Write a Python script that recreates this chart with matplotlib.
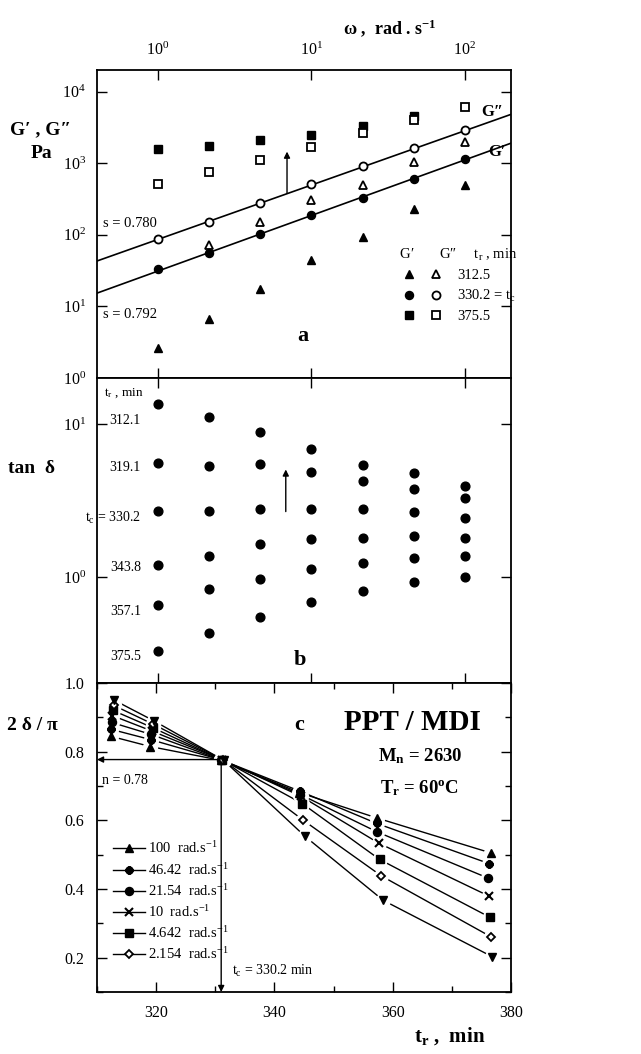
import matplotlib.pyplot as plt
import numpy as np
from matplotlib.lines import Line2D
from matplotlib.legend_handler import HandlerTuple
from matplotlib.ticker import FixedLocator, NullLocator, LogFormatterMathtext, MultipleLocator, FormatStrFormatter

plt.rcParams['font.family'] = ['Liberation Serif', 'DejaVu Serif']
plt.rcParams['mathtext.fontset'] = 'custom'
plt.rcParams['mathtext.rm'] = 'Liberation Serif'
plt.rcParams['mathtext.it'] = 'Liberation Serif:italic'
plt.rcParams['mathtext.bf'] = 'Liberation Serif:bold'

# ---- panel a : G', G'' vs omega
omega = [1, 2.154, 4.642, 10, 21.54, 46.42, 100]
Gp_312 = [2.6, 6.6, 17.4, 45, 94, 228, 500]
Gpp_312 = [np.nan, 72, 151, 303, 490, 1030, 2000]
Gp_330 = [33, 56, 101, 188, 330, 605, 1160]
Gpp_330 = [86, 151, 275, 505, 915, 1630, 2870]
Gp_375 = [1600, 1760, 2130, 2500, 3250, 4600, np.nan]
Gpp_375 = [505, 750, 1120, 1660, 2650, 3950, 6100]
fit_w = [0.4, 200]
Gpp_fit = [43, 4800]
Gp_fit = [15.3, 1900]
legend_a = ['312.5', '330.2 = t$_\\mathrm{c}$', '375.5']

# ---- panel b : tan delta vs omega, one row per reaction time
tr_b = ['312.1', '319.1', 't$_\\mathrm{c}$ = 330.2', '343.8', '357.1', '375.5']
tand = [
    [13.5, 11.1, 8.87, 6.91, 5.43, 4.77, 3.97],
    [5.57, 5.30, 5.46, 4.84, 4.26, 3.78, 3.31],
    [2.70, 2.72, 2.80, 2.81, 2.80, 2.68, 2.46],
    [1.20, 1.38, 1.66, 1.77, 1.82, 1.85, 1.82],
    [0.657, 0.836, 0.98, 1.13, 1.25, 1.34, 1.39],
    [0.331, 0.432, 0.555, 0.69, 0.82, 0.93, 1.01],
]

# ---- panel c : 2 delta / pi vs t_r
freq_labels = ['100  rad.s$^{-1}$', '46.42  rad.s$^{-1}$', '21.54  rad.s$^{-1}$',
               '10  rad.s$^{-1}$', '4.642  rad.s$^{-1}$', '2.154  rad.s$^{-1}$', '_nolegend_']
tr_c = [
    [312.3, 319.0, 330.9, 344.2, 357.3, 376.6],
    [312.4, 319.1, 331.0, 344.3, 357.3, 376.3],
    [312.5, 319.2, 331.0, 344.4, 357.4, 376.1],
    [312.6, 319.3, 331.1, 344.5, 357.6, 376.2],
    [312.7, 319.4, 331.2, 344.7, 357.8, 376.4],
    [312.8, 319.5, 331.3, 344.9, 358.1, 376.7],
    [312.9, 319.6, 331.4, 345.2, 358.4, 376.8],
]
delta_c = [
    [0.845, 0.815, 0.775, 0.681, 0.607, 0.505],
    [0.865, 0.835, 0.776, 0.685, 0.591, 0.474],
    [0.885, 0.850, 0.776, 0.675, 0.566, 0.432],
    [0.905, 0.860, 0.777, 0.670, 0.534, 0.380],
    [0.920, 0.870, 0.776, 0.649, 0.486, 0.318],
    [0.935, 0.880, 0.776, 0.600, 0.438, 0.260],
    [0.950, 0.890, 0.775, 0.553, 0.367, 0.203],
]
tc_val = 331.0
n_val = 0.777

fig = plt.figure(figsize=(6.41, 10.54), dpi=100)
L, W = 0.1513, 0.6459
ax_a = fig.add_axes([L, 0.6414, W, 0.2922])
ax_b = fig.add_axes([L, 0.3520, W, 0.2894])
ax_c = fig.add_axes([L, 0.0588, W, 0.2932])

for ax in (ax_a, ax_b, ax_c):
    for s in ax.spines.values():
        s.set_linewidth(1.3)

for ax in (ax_a, ax_b):
    ax.set_xscale('log')
    ax.set_yscale('log')
    ax.set_xlim(0.4, 200)
    ax.xaxis.set_major_locator(FixedLocator([1, 10, 100]))
    ax.xaxis.set_minor_locator(NullLocator())
    ax.yaxis.set_minor_locator(NullLocator())
    ax.yaxis.set_major_formatter(LogFormatterMathtext())
    ax.xaxis.set_major_formatter(LogFormatterMathtext())
    ax.tick_params(which='both', direction='in', top=True, bottom=True, left=True, right=True,
                   labelbottom=False, length=7, width=1, labelsize=11.5, pad=8)
ax_a.tick_params(labeltop=True)

# panel a
ax_a.set_ylim(1, 2e4)
ax_a.yaxis.set_major_locator(FixedLocator([1, 10, 100, 1000, 10000]))
ax_a.plot(fit_w, Gpp_fit, color='k', lw=1.2)
ax_a.plot(fit_w, Gp_fit, color='k', lw=1.2)
ms = 5.8
ax_a.plot(omega, Gp_312, '^', color='k', ms=ms, ls='none')
ax_a.plot(omega, Gpp_312, '^', mfc='white', mec='k', mew=1.3, ms=ms, ls='none')
ax_a.plot(omega, Gp_330, 'o', color='k', ms=ms, ls='none')
ax_a.plot(omega, Gpp_330, 'o', mfc='white', mec='k', mew=1.3, ms=ms, ls='none')
ax_a.plot(omega, Gp_375, 's', color='k', ms=ms, ls='none')
ax_a.plot(omega, Gpp_375, 's', mfc='white', mec='k', mew=1.3, ms=ms, ls='none')

ax_a.text(0.015, 0.503, 's = 0.780', transform=ax_a.transAxes, fontsize=10.5, va='center')
ax_a.text(0.015, 0.205, 's = 0.792', transform=ax_a.transAxes, fontsize=10.5, va='center')
ax_a.text(0.954, 0.862, 'G″', transform=ax_a.transAxes, fontsize=12, fontweight='bold', ha='center', va='center')
ax_a.text(0.966, 0.735, 'G′', transform=ax_a.transAxes, fontsize=12, fontweight='bold', ha='center', va='center')
ax_a.text(0.498, 0.135, 'a', transform=ax_a.transAxes, fontsize=16, fontweight='bold', ha='center', va='center')
ax_a.annotate('', xy=(0.459, 0.735), xytext=(0.459, 0.60), xycoords='axes fraction',
              arrowprops=dict(arrowstyle='-|>', color='k', lw=1, mutation_scale=9, shrinkA=0, shrinkB=0))

mk = ['^', 'o', 's']
handles = [(Line2D([], [], ls='none', marker=m, color='k', ms=ms),
            Line2D([], [], ls='none', marker=m, mfc='white', mec='k', mew=1.3, ms=ms)) for m in mk]
ax_a.legend(handles, legend_a, handler_map={tuple: HandlerTuple(ndivide=None, pad=0)},
            title=' G′       G″     t$_\\mathrm{r}$ , min', loc='upper left', bbox_to_anchor=(0.722, 0.425),
            frameon=False, fontsize=10.5, title_fontsize=10.5, handlelength=3.7, labelspacing=0.4,
            borderpad=0, borderaxespad=0, handletextpad=0.5, alignment='left')

# panel b
ax_b.set_ylim(0.205, 20)
ax_b.yaxis.set_major_locator(FixedLocator([1, 10]))
for row in tand:
    ax_b.plot(omega, row, 'o', color='k', ms=6.3, ls='none')
ax_b.text(0.112, 0.951, 't$_\\mathrm{r}$ , min', transform=ax_b.transAxes, fontsize=9.5, ha='right', va='center')
row_y = [0.862, 0.706, 0.542, 0.377, 0.234, 0.086]
for lab, yy in zip(tr_b, row_y):
    ax_b.text(0.106, yy, lab, transform=ax_b.transAxes, fontsize=10, ha='right', va='center')
ax_b.text(0.49, 0.075, 'b', transform=ax_b.transAxes, fontsize=16, fontweight='bold', ha='center', va='center')
ax_b.annotate('', xy=(0.456, 0.70), xytext=(0.456, 0.562), xycoords='axes fraction',
              arrowprops=dict(arrowstyle='-|>', color='k', lw=1, mutation_scale=9, shrinkA=0, shrinkB=0))

# panel c
ax_c.set_xlim(310, 380)
ax_c.set_ylim(0.1, 1.0)
ax_c.xaxis.set_major_locator(MultipleLocator(20))
ax_c.xaxis.set_minor_locator(MultipleLocator(10))
ax_c.yaxis.set_major_locator(MultipleLocator(0.2))
ax_c.yaxis.set_minor_locator(MultipleLocator(0.1))
ax_c.yaxis.set_major_formatter(FormatStrFormatter('%.1f'))
ax_c.tick_params(which='both', direction='in', top=True, bottom=True, left=True, right=True,
                 width=1, labelsize=11.5)
ax_c.tick_params(which='major', length=7, pad=9)
ax_c.tick_params(which='minor', length=4)

styles = [
    dict(marker='^', mfc='k', mec='k'),
    dict(marker=(8, 2, 0), mfc='k', mec='k', mew=2),
    dict(marker='o', mfc='k', mec='k'),
    dict(marker='x', mfc='k', mec='k', mew=1.5),
    dict(marker='s', mfc='k', mec='k'),
    dict(marker='D', mfc='white', mec='k', mew=1.3, ms=4.5),
    dict(marker='v', mfc='k', mec='k'),
]
leg_handles = []
for x, y, st, lab in zip(tr_c, delta_c, styles, freq_labels):
    ax_c.plot(x, y, color='k', lw=1, zorder=2)
    ax_c.plot(x, y, ls='none', marker='o', ms=10, mfc='white', mec='white', zorder=3)
    kw = dict(ms=5.8)
    kw.update(st)
    ax_c.plot(x, y, ls='none', zorder=4, **kw)
    if not lab.startswith('_'):
        leg_handles.append((Line2D([], [], color='k', lw=1, **kw), lab))

ax_c.annotate('', xy=(310, n_val), xytext=(tc_val, n_val),
              arrowprops=dict(arrowstyle='-|>', color='k', lw=1, mutation_scale=9, shrinkA=0, shrinkB=0))
ax_c.annotate('', xy=(tc_val, 0.1), xytext=(tc_val, n_val),
              arrowprops=dict(arrowstyle='-|>', color='k', lw=1, mutation_scale=9, shrinkA=0, shrinkB=0))

ax_c.legend([h for h, _ in leg_handles], [l for _, l in leg_handles], loc='upper left',
            bbox_to_anchor=(0.038, 0.49), frameon=False, fontsize=10.5, handlelength=2.2,
            labelspacing=0.36, borderpad=0, borderaxespad=0, handletextpad=0.2)

ax_c.text(0.012, 0.686, 'n = 0.78', transform=ax_c.transAxes, fontsize=10, va='center')
ax_c.text(0.326, 0.068, 't$_\\mathrm{c}$ = 330.2 min', transform=ax_c.transAxes, fontsize=10, va='center')
ax_c.text(0.488, 0.864, 'c', transform=ax_c.transAxes, fontsize=16, fontweight='bold', ha='center', va='center')
ax_c.text(0.763, 0.871, 'PPT / MDI', transform=ax_c.transAxes, fontsize=21, fontweight='bold', ha='center', va='center')
ax_c.text(0.78, 0.764, 'M$_\\mathbf{n}$ = 2630', transform=ax_c.transAxes, fontsize=13.5, fontweight='bold', ha='center', va='center')
ax_c.text(0.78, 0.66, 'T$_\\mathbf{r}$ = 60$^\\mathbf{o}$C', transform=ax_c.transAxes, fontsize=13.5, fontweight='bold', ha='center', va='center')

# axis titles
fig.text(41 / 641, 1 - 130 / 1054, 'G′ , G″', fontsize=14, fontweight='bold', ha='center', va='center')
fig.text(41 / 641, 1 - 153 / 1054, 'Pa', fontsize=14, fontweight='bold', ha='center', va='center')
fig.text(32 / 641, 1 - 468 / 1054, 'tan  δ', fontsize=14, fontweight='bold', ha='center', va='center')
fig.text(32 / 641, 1 - 725 / 1054, '2 δ / π', fontsize=14, fontweight='bold', ha='center', va='center')
fig.text(390 / 641, 1 - 28 / 1054, 'ω ,  rad . s$^{\\mathbf{-1}}$', fontsize=13, fontweight='bold', ha='center', va='center')
fig.text(450 / 641, 1 - 1036 / 1054, 't$_\\mathbf{r}$ ,  min', fontsize=15, fontweight='bold', ha='center', va='center')

plt.savefig('out.png', dpi=100)
